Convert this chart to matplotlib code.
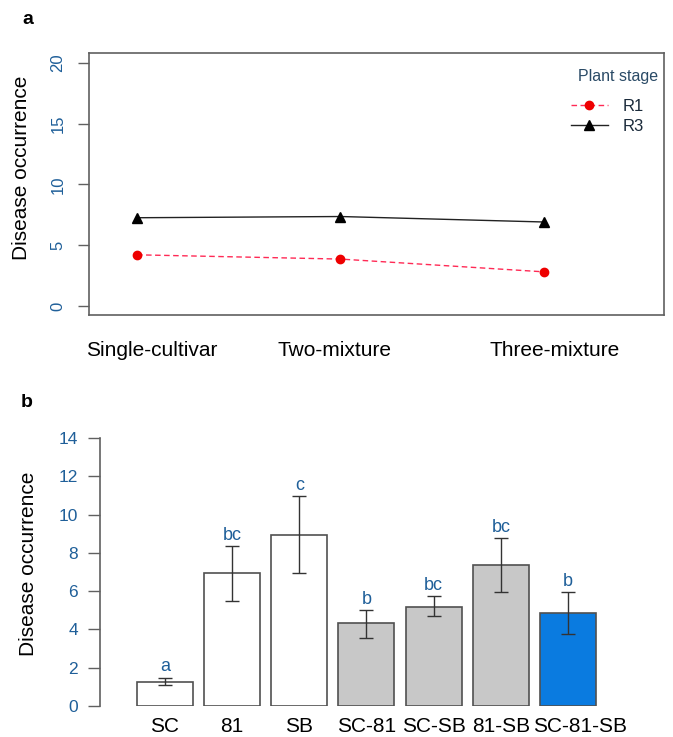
import numpy as np
import matplotlib
matplotlib.use("Agg")
import matplotlib.pyplot as plt

plt.rcParams['font.family'] = ['Liberation Sans', 'DejaVu Sans']

# panel a
groups = ['Single-cultivar', 'Two-mixture', 'Three-mixture']
r1 = [4.2, 3.85, 2.8]
r3 = [7.25, 7.35, 6.9]

# panel b
treatments = ['SC', '81', 'SB', 'SC-81', 'SC-SB', '81-SB', 'SC-81-SB']
means = [1.26, 6.93, 8.94, 4.31, 5.18, 7.35, 4.87]
err_low = [1.08, 5.50, 6.93, 3.56, 4.68, 5.93, 3.75]
err_high = [1.48, 8.36, 10.98, 5.01, 5.74, 8.76, 5.93]
letters = ['a', 'bc', 'c', 'b', 'bc', 'bc', 'b']
bar_colors = ['white', 'white', 'white', '#c8c8c8', '#c8c8c8', '#c8c8c8', '#0a7be0']

W, H = 673, 737
tick_col = '#1f5f99'
spine_col = '#606060'

fig = plt.figure(figsize=(W / 100, H / 100), dpi=100)


def px_axes(left, top, right, bottom):
    return fig.add_axes([left / W, 1 - bottom / H, (right - left) / W, (bottom - top) / H])


# ---- panel a ----
ax = px_axes(89, 53, 664, 315)
x = np.arange(1, len(groups) + 1)
ax.plot(x, r1, color='#ff2a55', lw=1.0, dashes=(4, 2.5), marker='o',
        ms=6, mfc='#ee0000', mec='#ee0000', label='R1')
ax.plot(x, r3, color='#222222', lw=1.0, marker='^', ms=6.5,
        mfc='black', mec='black', label='R3')
ax.set_xlim(0.764, 3.59)
ax.set_ylim(-0.75, 20.8)
ax.set_yticks([0, 5, 10, 15, 20])
ax.set_yticklabels(['0', '5', '10', '15', '20'], rotation=90, va='center',
                   color=tick_col, fontsize=12)
ax.tick_params(axis='y', length=8, width=1, color=spine_col, pad=9)
ax.set_xticks([1.07, 1.97, 3.05])
ax.set_xticklabels(groups, fontsize=15)
ax.tick_params(axis='x', length=0, pad=19)
for s in ax.spines.values():
    s.set_color(spine_col)
    s.set_linewidth(1.2)
leg = ax.legend(loc='upper left', bbox_to_anchor=(571 / W, 1 - 99 / H),
                bbox_transform=fig.transFigure, frameon=False, fontsize=12,
                handlelength=2.2, handletextpad=0.9, labelspacing=0.3,
                borderpad=0, borderaxespad=0)
for t in leg.get_texts():
    t.set_color('#1a2a3a')
fig.text(618 / W, 1 - 76 / H, 'Plant stage', fontsize=11.5, color='#2a4a66',
         ha='center', va='center')

fig.text(22 / W, 1 - 168 / H, 'Disease occurrence', rotation=90, fontsize=15,
         ha='center', va='center')
fig.text(22 / W, 1 - 19 / H, 'a', fontsize=14, fontweight='bold', ha='left', va='center')

# ---- panel b ----
bx = px_axes(100, 438, 615, 706)
pos = 0.7 + 1.2 * np.arange(len(treatments))
means_a = np.array(means)
yerr = [means_a - np.array(err_low), np.array(err_high) - means_a]
bx.bar(pos, means, width=1.0, color=bar_colors, edgecolor='#505050', linewidth=1.2)
bx.errorbar(pos, means, yerr=yerr, fmt='none', ecolor='#333333', elinewidth=1.0,
            capsize=5, capthick=1.0)
for p, top, lab in zip(pos, err_high, letters):
    bx.text(p, top + 0.12, lab, ha='center', va='bottom', fontsize=13, color=tick_col)
bx.set_xlim(-0.46, 8.74)
bx.set_ylim(0, 14)
bx.set_yticks(np.arange(0, 15, 2))
bx.tick_params(axis='y', length=8.5, width=1, color=spine_col, pad=7.5,
               labelcolor=tick_col, labelsize=12.5)
label_pos = list(pos[:-1]) + [8.11]
bx.set_xticks(label_pos)
bx.set_xticklabels(treatments, fontsize=15)
bx.tick_params(axis='x', length=0, pad=8)
for side in ['top', 'right', 'bottom']:
    bx.spines[side].set_visible(False)
bx.spines['left'].set_color(spine_col)
bx.spines['left'].set_linewidth(1.2)
bx.spines['left'].set_bounds(0, 14)

fig.text(29 / W, 1 - 564 / H, 'Disease occurrence', rotation=90, fontsize=15,
         ha='center', va='center')
fig.text(21 / W, 1 - 403 / H, 'b', fontsize=14, fontweight='bold', ha='left', va='center')

fig.savefig('out.png', dpi=100, facecolor='white')
